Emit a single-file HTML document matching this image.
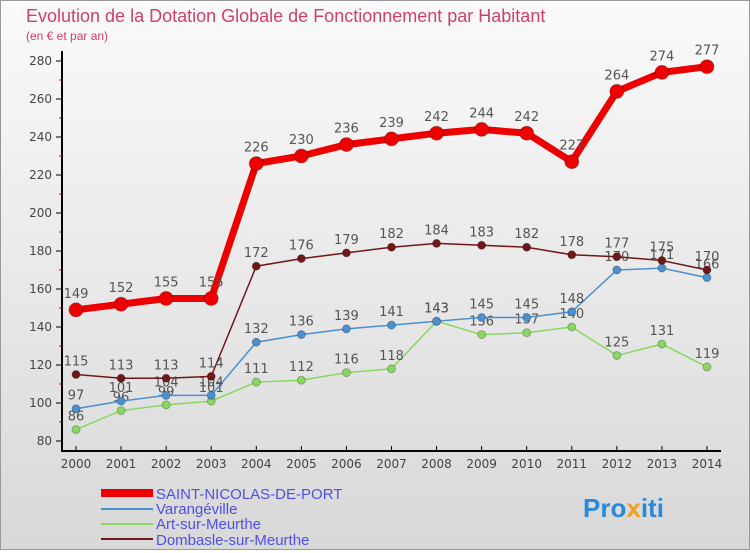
<!DOCTYPE html>
<html><head><meta charset="utf-8"><style>
body{margin:0;width:750px;height:550px;overflow:hidden;font-family:"DejaVu Sans","Liberation Sans",sans-serif}
#wrap{position:relative;width:748px;height:548px;border:1px solid #999;background:linear-gradient(#fafafa,#d8d8d8);}
</style></head><body>
<div id="wrap">
<svg id="c" width="748" height="548" xmlns="http://www.w3.org/2000/svg">
<text x="25" y="21" font-size="18" fill="#d04068" font-family="Liberation Sans, sans-serif">Evolution de la Dotation Globale de Fonctionnement par Habitant</text>
<text x="25" y="39" font-size="12" fill="#d04068" font-family="Liberation Sans, sans-serif">(en € et par an)</text>
<g id="axes"></g><g id="series"></g>
<g font-family="Liberation Sans, sans-serif">
<line x1="100" y1="492" x2="152" y2="492" stroke="#ee0000" stroke-width="8"/>
<text x="155" y="498" font-size="15" fill="#5050e0">SAINT-NICOLAS-DE-PORT</text>
<line x1="100" y1="508" x2="152" y2="508" stroke="#4a90d0" stroke-width="2"/>
<text x="155" y="513" font-size="15" fill="#5050e0">Varangéville</text>
<line x1="100" y1="523" x2="152" y2="523" stroke="#88d860" stroke-width="2"/>
<text x="155" y="528" font-size="15" fill="#5050e0">Art-sur-Meurthe</text>
<line x1="100" y1="538" x2="152" y2="538" stroke="#701818" stroke-width="2"/>
<text x="155" y="544" font-size="15" fill="#5050e0">Dombasle-sur-Meurthe</text>
</g>
<text x="582" y="516" font-size="26" font-weight="bold" fill="#2a8ad8" font-family="Liberation Sans, sans-serif">Pro<tspan fill="#f0a020">x</tspan>iti</text>
</svg></div>
<script>
const years=[2000,2001,2002,2003,2004,2005,2006,2007,2008,2009,2010,2011,2012,2013,2014];
const yTicks=[80,100,120,140,160,180,200,220,240,260,280];
const snp=[149,152,155,155,226,230,236,239,242,244,242,227,264,274,277];
const varang=[97,101,104,104,132,136,139,141,143,145,145,148,170,171,166];
const art=[86,96,99,101,111,112,116,118,143,136,137,140,125,131,119];
const dom=[115,113,113,114,172,176,179,182,184,183,182,178,177,175,170];
const NS="http://www.w3.org/2000/svg";
const X=i=>75+i*45.07, Y=v=>440-(v-80)*1.9;
function mk(t,a,p){const e=document.createElementNS(NS,t);for(const k in a)e.setAttribute(k,a[k]);p.appendChild(e);return e;}
const ax=document.getElementById('axes'), se=document.getElementById('series');
let l=mk('line',{x1:61,y1:50,x2:61,y2:451,stroke:'#000','stroke-width':2},ax);


l=mk('line',{x1:61,y1:450,x2:720,y2:450,stroke:'#000','stroke-width':2},ax);


yTicks.forEach((v,i)=>{
 mk('line',{x1:55,y1:Y(v),x2:61,y2:Y(v),stroke:'#000'},ax);
 if(i<yTicks.length-1) mk('line',{x1:58,y1:Y(v+10),x2:61,y2:Y(v+10),stroke:'#e00'},ax);
 const t=mk('text',{x:51,y:Y(v)+4,'font-size':12,'text-anchor':'end',fill:'#444'},ax);t.textContent=v;
 
 
});
years.forEach((y,i)=>{
 mk('line',{x1:X(i),y1:445,x2:X(i),y2:451,stroke:'#000'},ax);
 const t=mk('text',{x:X(i),y:467,'font-size':12,'text-anchor':'middle',fill:'#444'},ax);t.textContent=y;
 
 
});
function series(d,col,w,r,name){
 const g=mk('g',{},se);
 
 
 mk('polyline',{points:d.map((v,i)=>X(i)+','+Y(v)).join(' '),fill:'none',stroke:col,'stroke-width':w},g);
 d.forEach((v,i)=>{
  const c=mk('circle',{cx:X(i),cy:Y(v),r:r,fill:col,stroke:'rgba(0,0,0,0.25)'},g);
  
  
  const t=mk('text',{x:X(i),y:Y(v)-r-5,'font-size':13,'text-anchor':'middle',fill:'#555'},g);t.textContent=v;
  
  
 });
}
series(art,'#88d860',1.5,4,'art-sur-meurthe');
series(varang,'#4a90d0',1.5,4,'varangeville');
series(dom,'#701818',1.5,4,'dombasle');
series(snp,'#ee0000',7,7,'saint-nicolas');
</script>
</body></html>
